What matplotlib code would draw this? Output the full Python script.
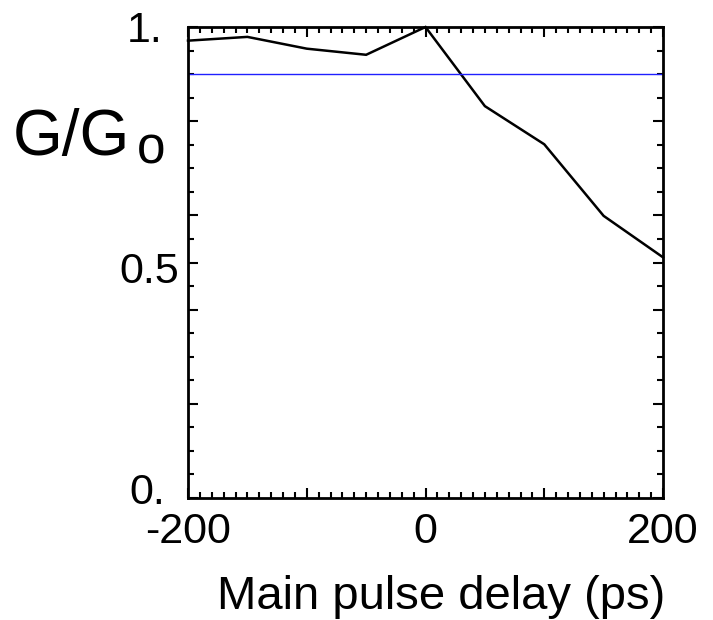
import matplotlib
matplotlib.use("Agg")
import matplotlib.pyplot as plt
from matplotlib.ticker import FixedLocator, FixedFormatter
from matplotlib.transforms import ScaledTranslation

plt.rcParams['font.family'] = ['Liberation Sans', 'DejaVu Sans']

delay = [-200, -150, -100, -50, 0, 50, 100, 150, 200]
gain = [0.971, 0.979, 0.954, 0.941, 1.0, 0.832, 0.751, 0.599, 0.511]
ref_level = 0.9

x_major = [-200, -100, 0, 100, 200]
x_labels = ['-200', '', '0', '', '200']
y_major = [0.0, 0.2, 0.4, 0.5, 0.6, 0.8, 1.0]
y_labels = ['0.', '', '', '0.5', '', '', '1.']

fig = plt.figure(figsize=(7.13, 6.2), dpi=100)
ax = fig.add_axes([188/713, (620-498)/620, 475/713, 471/620])

ax.plot(delay, gain, color='black', lw=1.8, solid_joinstyle='miter', clip_on=False)
ax.axhline(ref_level, color='#2020ff', lw=1.0)

ax.set_xlim(-200, 200)
ax.set_ylim(0, 1)

ax.xaxis.set_major_locator(FixedLocator(x_major))
ax.xaxis.set_major_formatter(FixedFormatter(x_labels))
ax.xaxis.set_minor_locator(FixedLocator([v for v in range(-200, 201, 10)]))
ax.yaxis.set_major_locator(FixedLocator(y_major))
ax.yaxis.set_major_formatter(FixedFormatter(y_labels))
ax.yaxis.set_minor_locator(FixedLocator([i * 0.05 for i in range(21)]))

ax.tick_params(which='both', direction='in', top=True, right=True, width=1.5, colors='black')
ax.tick_params(which='major', length=7)
ax.tick_params(which='minor', length=4)
ax.tick_params(axis='x', which='major', labelsize=31, pad=10)
ax.tick_params(axis='y', which='major', labelsize=31, pad=8)

for s in ax.spines.values():
    s.set_linewidth(2.0)

# per-label pixel offsets (dx, dy) to mimic original placement
offsets = {'1.': (-14, 0), '0.5': (2, -5), '0.': (-12, 10)}
fig.canvas.draw()
for lab in ax.get_yticklabels():
    t = lab.get_text()
    if t in offsets:
        dx, dy = offsets[t]
        lab.set_transform(lab.get_transform() +
                          ScaledTranslation(dx / 100, dy / 100, fig.dpi_scale_trans))

ax.set_xlabel('Main pulse delay (ps)', fontsize=34, va='baseline')
ax.xaxis.set_label_coords((441-188)/475, (498-609)/471)

ax.set_ylabel('G/G', fontsize=46, rotation=0, ha='left', va='baseline')
ax.yaxis.set_label_coords((13-188)/475, (498-155)/471)
ax.text((137-188)/475, (498-163)/471, 'o', fontsize=37, ha='left', va='baseline',
        transform=ax.transAxes, clip_on=False)

fig.savefig('out.png', dpi=100)
